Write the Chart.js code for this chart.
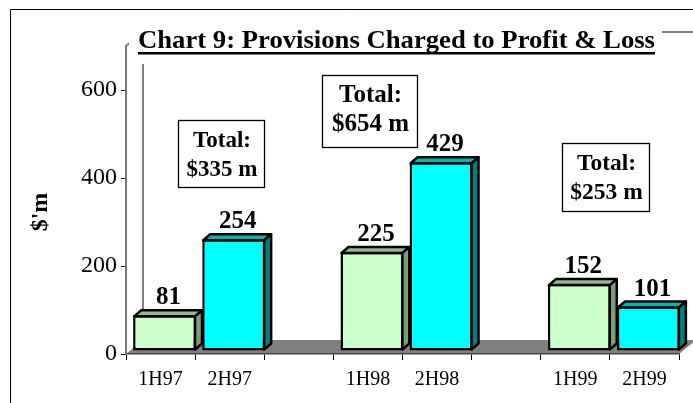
<!DOCTYPE html>
<html>
<head>
<meta charset="utf-8">
<script src="https://cdn.jsdelivr.net/npm/chart.js@4.4.1/dist/chart.umd.min.js"></script>
<style>
  html, body { margin: 0; padding: 0; background: #fff; }
  #wrap { width: 693px; height: 403px; }
</style>
</head>
<body>
<div id="wrap"><canvas id="chart" width="693" height="403"></canvas></div>
<script>
// --- Data ---
const periods = ['1H97', '2H97', '', '1H98', '2H98', '', '1H99', '2H99'];
const provisions = [81, 254, null, 225, 429, null, 152, 101];
const yearTotals = ['$335 m', '$654 m', '$253 m'];
const yTicks = [0, 200, 400, 600];
const chartTitle = 'Chart 9: Provisions Charged to Profit & Loss';
const yTitle = "$'m";

const SERIF = "'Liberation Serif', 'Times New Roman', serif";

// front / top / side colours for first and second half bars
const faces = {
    '1H': { front: '#CCFFCC', top: '#93B893', side: '#7C9C7C' },
    '2H': { front: '#00FFFF', top: '#00B8B8', side: '#008080' }
};
const faceOf = (i) => faces[periods[i].slice(0, 2)] || faces['1H'];

const BAR_SHIFT = { x: 4, y: -3 };    // bars sit a little back on the floor
const BAR_DEPTH = { x: 7, y: -6 };
const WALL_DEPTH = { x: 17, y: -14 };
const TITLE_WIDTH = 517;

// total boxes: [x, y, w, h, font size]
const totalBoxes = [
    [178, 120, 86, 67, 23],
    [322, 75, 95, 72, 25],
    [562, 143, 87, 68, 23.5]
];

const backdrop = {
    id: 'backdrop',
    beforeDraw(chart) {
        const ctx = chart.ctx;
        const a = chart.chartArea;
        ctx.save();
        // outer frame
        ctx.strokeStyle = '#000';
        ctx.lineWidth = 1;
        ctx.beginPath();
        ctx.moveTo(10.5, 403);
        ctx.lineTo(10.5, 9.5);
        ctx.lineTo(693, 9.5);
        ctx.stroke();
        // floor
        ctx.fillStyle = '#808080';
        ctx.beginPath();
        ctx.moveTo(a.left, a.bottom);
        ctx.lineTo(a.right, a.bottom);
        ctx.lineTo(a.right + WALL_DEPTH.x, a.bottom + WALL_DEPTH.y);
        ctx.lineTo(a.left + WALL_DEPTH.x, a.bottom + WALL_DEPTH.y);
        ctx.closePath();
        ctx.fill();
        // back wall edges
        ctx.strokeStyle = '#808080';
        ctx.lineWidth = 2;
        ctx.beginPath();
        ctx.moveTo(a.left, a.top);
        ctx.lineTo(a.left + WALL_DEPTH.x, a.top + WALL_DEPTH.y);
        ctx.lineTo(700, a.top + WALL_DEPTH.y);
        ctx.moveTo(a.left + WALL_DEPTH.x, a.top + WALL_DEPTH.y);
        ctx.lineTo(a.left + WALL_DEPTH.x, a.bottom + WALL_DEPTH.y);
        ctx.stroke();
        ctx.restore();
    },
    beforeDatasetsDraw(chart) {
        chart.ctx.save();
        chart.ctx.translate(BAR_SHIFT.x, BAR_SHIFT.y);
    },
    afterDatasetsDraw(chart) {
        const ctx = chart.ctx;
        const meta = chart.getDatasetMeta(0);
        ctx.lineWidth = 2.5;
        ctx.lineJoin = 'round';
        ctx.strokeStyle = '#000';
        meta.data.forEach((bar, i) => {
            if (provisions[i] == null) return;
            const { x, y, width, base } = bar.getProps(['x', 'y', 'width', 'base'], true);
            const l = x - width / 2 + 1, r = x + width / 2 - 1, t = y + 1, b = base - 1;
            const dx = BAR_DEPTH.x, dy = BAR_DEPTH.y;
            const f = faceOf(i);
            // top face
            ctx.fillStyle = f.top;
            ctx.beginPath();
            ctx.moveTo(l, t);
            ctx.lineTo(l + dx, t + dy);
            ctx.lineTo(r + dx, t + dy);
            ctx.lineTo(r, t);
            ctx.closePath();
            ctx.fill();
            ctx.stroke();
            // side face
            ctx.fillStyle = f.side;
            ctx.beginPath();
            ctx.moveTo(r, t);
            ctx.lineTo(r + dx, t + dy);
            ctx.lineTo(r + dx, b + dy);
            ctx.lineTo(r, b);
            ctx.closePath();
            ctx.fill();
            ctx.stroke();
        });
        ctx.restore();
    },
    afterDraw(chart) {
        const ctx = chart.ctx;
        const meta = chart.getDatasetMeta(0);
        ctx.save();
        ctx.fillStyle = '#000';

        // value labels
        ctx.font = 'bold 25px ' + SERIF;
        ctx.textAlign = 'center';
        ctx.textBaseline = 'alphabetic';
        meta.data.forEach((bar, i) => {
            if (provisions[i] == null) return;
            ctx.fillText(String(provisions[i]), bar.x + BAR_SHIFT.x + 4, bar.y + BAR_SHIFT.y - 11);
        });

        // total boxes
        totalBoxes.forEach(([bx, by, bw, bh, fs], k) => {
            ctx.fillStyle = '#fff';
            ctx.fillRect(bx, by, bw, bh);
            ctx.strokeStyle = '#000';
            ctx.lineWidth = 1.3;
            ctx.strokeRect(bx + 0.5, by + 0.5, bw, bh);
            ctx.fillStyle = '#000';
            ctx.font = 'bold ' + fs + 'px ' + SERIF;
            ctx.fillText('Total:', bx + bw / 2 + 1, by + 27);
            ctx.fillText(yearTotals[k], bx + bw / 2 + 1, by + 56);
        });

        // title with white backing that hides the wall top
        ctx.fillStyle = '#fff';
        ctx.fillRect(129, 22, 533, 42);
        ctx.fillStyle = '#000';
        ctx.font = 'bold 25px ' + SERIF;
        ctx.textAlign = 'left';
        const tw = ctx.measureText(chartTitle).width;
        ctx.save();
        ctx.translate(138, 48);
        ctx.scale(TITLE_WIDTH / tw, 1);
        ctx.fillText(chartTitle, 0, 0);
        ctx.restore();
        ctx.fillRect(138, 52, TITLE_WIDTH, 2.5);

        // y axis title
        ctx.translate(41, 212);
        ctx.rotate(-Math.PI / 2);
        ctx.textAlign = 'center';
        ctx.textBaseline = 'middle';
        ctx.font = 'bold 24px ' + SERIF;
        ctx.fillText(yTitle, 0, 0);
        ctx.restore();
    }
};

new Chart(document.getElementById('chart'), {
    type: 'bar',
    data: {
        labels: periods,
        datasets: [{
            data: provisions,
            backgroundColor: provisions.map((v, i) => faceOf(i).front),
            borderColor: '#000',
            borderWidth: 2.5,
            borderSkipped: false,
            barPercentage: 0.91,
            categoryPercentage: 1
        }]
    },
    options: {
        responsive: false,
        animation: false,
        events: [],
        layout: { padding: { top: 46, right: 14, left: 0, bottom: 0 } },
        plugins: {
            legend: { display: false },
            tooltip: { enabled: false }
        },
        scales: {
            x: {
                offset: true,
                afterFit: (s) => { s.height = 49; },
                grid: { offset: true, drawOnChartArea: false, color: '#000', tickLength: 6 },
                border: { color: '#444', width: 1.5 },
                ticks: { color: '#000', padding: 8, maxRotation: 0, font: { family: SERIF, size: 20 } }
            },
            y: {
                min: 0,
                max: 700,
                afterFit: (s) => { s.width = 126; },
                afterBuildTicks: (s) => { s.ticks = yTicks.map(v => ({ value: v })); },
                grid: { drawOnChartArea: false, color: '#000', tickLength: 5 },
                border: { color: '#777', width: 2 },
                ticks: { color: '#000', padding: 4, font: { family: SERIF, size: 24 } }
            }
        }
    },
    plugins: [backdrop]
});
</script>
</body>
</html>
